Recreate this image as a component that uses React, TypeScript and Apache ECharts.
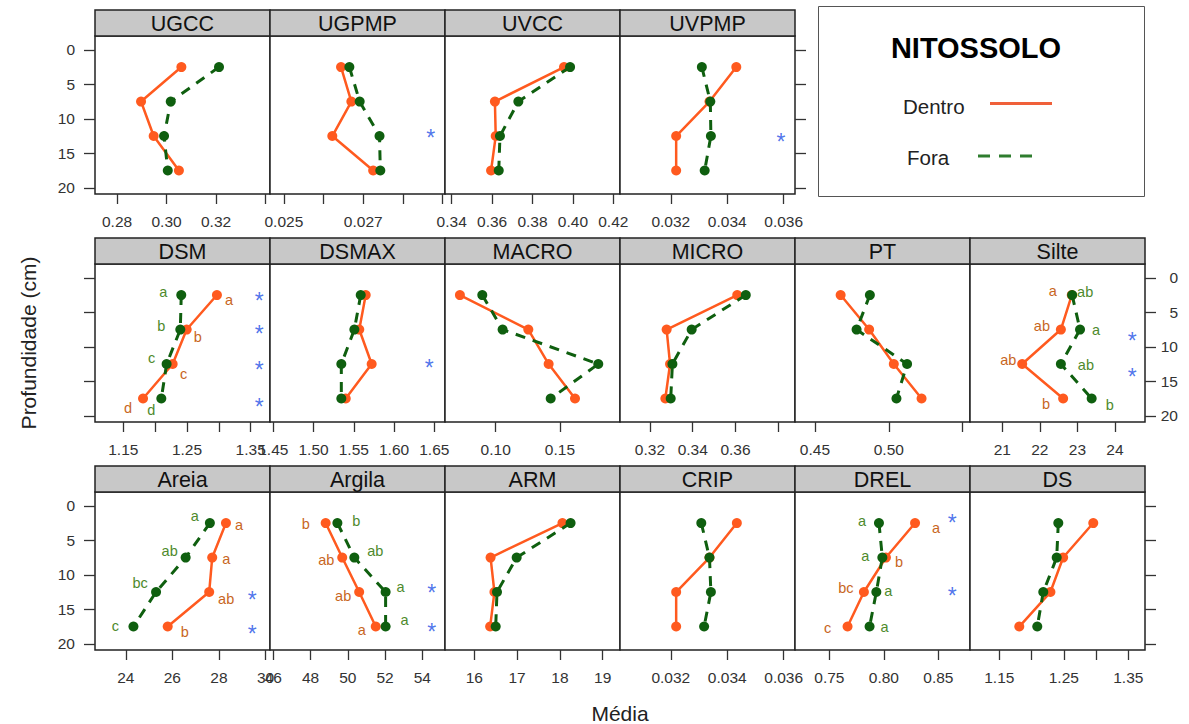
import React, { useEffect, useRef } from "react";
import * as echarts from "echarts";

// ---------------- DATA ----------------
const DEPTHS = [2.5, 7.5, 12.5, 17.5];
const DEPTH_TICKS = [0, 5, 10, 15, 20];

const UGCC_DENTRO = [0.306, 0.2897, 0.2948, 0.305];
const UGCC_FORA = [0.3212, 0.3017, 0.299, 0.3005];
const UGPMP_DENTRO = [0.02644, 0.0267, 0.02622, 0.02725];
const UGPMP_FORA = [0.02665, 0.02691, 0.02741, 0.02743];
const UVCC_DENTRO = [0.3956, 0.3614, 0.3618, 0.3595];
const UVCC_FORA = [0.3986, 0.373, 0.3639, 0.3633];
const UVPMP_DENTRO = [0.03432, 0.03337, 0.03219, 0.03219];
const UVPMP_FORA = [0.0331, 0.0334, 0.03342, 0.0332];
const DSM_DENTRO = [1.297, 1.2495, 1.2275, 1.181];
const DSM_FORA = [1.241, 1.2395, 1.218, 1.2097];
const DSMAX_DENTRO = [1.5648, 1.5568, 1.5722, 1.54];
const DSMAX_FORA = [1.5586, 1.5507, 1.5345, 1.5345];
const MACRO_DENTRO = [0.0722, 0.1254, 0.1412, 0.1617];
const MACRO_FORA = [0.0896, 0.1054, 0.1798, 0.1428];
const MICRO_DENTRO = [0.3608, 0.3278, 0.3294, 0.3272];
const MICRO_FORA = [0.3648, 0.3395, 0.3305, 0.3297];
const PT_DENTRO = [0.4674, 0.4867, 0.5034, 0.5222];
const PT_FORA = [0.4872, 0.4782, 0.5124, 0.5052];
const SILTE_DENTRO = [22.85, 22.56, 21.53, 22.62];
const SILTE_FORA = [22.86, 23.07, 22.56, 23.38];
const AREIA_DENTRO = [28.3, 27.71, 27.58, 25.8];
const AREIA_FORA = [27.61, 26.57, 25.3, 24.33];
const ARGILA_DENTRO = [48.81, 49.7, 50.61, 51.5];
const ARGILA_FORA = [49.44, 50.35, 52.03, 52.03];
const ARM_DENTRO = [18.06, 16.38, 16.47, 16.37];
const ARM_FORA = [18.25, 16.99, 16.53, 16.5];
const CRIP_DENTRO = [0.03434, 0.03337, 0.03219, 0.03219];
const CRIP_FORA = [0.03308, 0.03337, 0.03342, 0.03318];
const DREL_DENTRO = [0.8286, 0.8019, 0.7817, 0.7667];
const DREL_FORA = [0.7955, 0.7986, 0.7931, 0.7869];
const DS_DENTRO = [1.2957, 1.249, 1.2293, 1.181];
const DS_FORA = [1.2415, 1.239, 1.2182, 1.2089];

// significance letters
const DSM_DENTRO_LETTERS = ["a", "b", "c", "d"];
const DSM_FORA_LETTERS = ["a", "b", "c", "d"];
const SILTE_DENTRO_LETTERS = ["a", "ab", "ab", "b"];
const SILTE_FORA_LETTERS = ["ab", "a", "ab", "b"];
const AREIA_DENTRO_LETTERS = ["a", "a", "ab", "b"];
const AREIA_FORA_LETTERS = ["a", "ab", "bc", "c"];
const ARGILA_DENTRO_LETTERS = ["b", "ab", "ab", "a"];
const ARGILA_FORA_LETTERS = ["b", "ab", "a", "a"];
const DREL_DENTRO_LETTERS = ["a", "b", "bc", "c"];
const DREL_FORA_LETTERS = ["a", "a", "a", "a"];

// asterisks (depths)
const UGPMP_STARS = [12.1];
const UVPMP_STARS = [12.6];
const DSM_STARS = [2.64, 7.46, 12.6, 18.0];
const DSMAX_STARS = [12.4];
const SILTE_STARS = [8.43, 13.6];
const AREIA_STARS = [13.0, 17.9];
const ARGILA_STARS = [11.9, 17.5];
const DREL_STARS = [1.72, 12.4];

// tick values and tick labels
const UGCC_TICKS = [0.28, 0.3, 0.32, 0.34];
const UGCC_LABELS = [0.28, 0.3, 0.32];
const UGPMP_TICKS = [0.025, 0.026, 0.027, 0.028, 0.029];
const UGPMP_LABELS = [0.025, 0.027];
const UVCC_TICKS = [0.34, 0.36, 0.38, 0.4, 0.42];
const UVPMP_TICKS = [0.032, 0.034, 0.036];
const DSM_TICKS = [1.15, 1.2, 1.25, 1.3, 1.35];
const DSM_LABELS = [1.15, 1.25, 1.35];
const DSMAX_TICKS = [1.45, 1.5, 1.55, 1.6, 1.65];
const MACRO_TICKS = [0.1, 0.15];
const MICRO_TICKS = [0.32, 0.34, 0.36, 0.38];
const MICRO_LABELS = [0.32, 0.34, 0.36];
const PT_TICKS = [0.45, 0.5, 0.55];
const PT_LABELS = [0.45, 0.5];
const SILTE_TICKS = [21, 22, 23, 24];
const AREIA_TICKS = [24, 26, 28, 30];
const ARGILA_TICKS = [46, 48, 50, 52, 54];
const ARM_TICKS = [16, 17, 18, 19];
const CRIP_TICKS = [0.032, 0.034, 0.036];
const DREL_TICKS = [0.75, 0.8, 0.85];
const DS_TICKS = [1.15, 1.2, 1.25, 1.3, 1.35];
const DS_LABELS = [1.15, 1.25, 1.35];

// ---------------- LAYOUT / STYLE ----------------
const FONT = "'Liberation Sans', Arial, sans-serif";
const ORANGE = "#FF5A1F";
const GREEN = "#0F5F0F";
const ORANGE_TXT = "#C8661E";
const GREEN_TXT = "#4E8A2C";
const STAR_BLUE = "#2452E6";
const COL_X = [95, 270, 445, 620, 795, 970];
const ROW_TOP = [36, 264, 492];
const PW = 175;
const PH = 158;
const STRIP_H = 26;

const LETTER_OFFSETS: any = {
  DSM: { dentro: [[12, 5], [11, 7], [11, 10], [-15, 9]], fora: [[-18, -3], [-19, -4], [-15, -6], [-10, 11]] },
  Silte: { dentro: [[-19, -4], [-19, -4], [-14, -4], [-17, 5]], fora: [[13, -3], [16, 0], [25, 1], [18, 6]] },
  Areia: { dentro: [[13, 2], [14, 1], [17, 7], [17, 5]], fora: [[-15, -7], [-16, -7], [-16, -9], [-18, -1]] },
  Argila: { dentro: [[-20, 1], [-16, 2], [-16, 4], [-14, 3]], fora: [[19, -2], [21, -7], [15, -5], [19, -7]] },
  DREL: { dentro: [[21, 5], [13, 4], [-18, -4], [-20, 1]], fora: [[-17, -2], [-17, -2], [12, -1], [15, 0]] },
};

const PANELS: any[] = [
  { name: "UGCC", row: 0, col: 0, dentro: UGCC_DENTRO, fora: UGCC_FORA, min: 0.2711, max: 0.3418, ticks: UGCC_TICKS, labels: UGCC_LABELS, dec: 2, yAxis: "leftLabels" },
  { name: "UGPMP", row: 0, col: 1, dentro: UGPMP_DENTRO, fora: UGPMP_FORA, min: 0.02465, max: 0.02906, ticks: UGPMP_TICKS, labels: UGPMP_LABELS, dec: 3, stars: UGPMP_STARS, starX: 0.0287 },
  { name: "UVCC", row: 0, col: 2, dentro: UVCC_DENTRO, fora: UVCC_FORA, min: 0.3367, max: 0.4233, ticks: UVCC_TICKS, labels: UVCC_TICKS, dec: 2 },
  { name: "UVPMP", row: 0, col: 3, dentro: UVPMP_DENTRO, fora: UVPMP_FORA, min: 0.0302, max: 0.0364, ticks: UVPMP_TICKS, labels: UVPMP_TICKS, dec: 3, stars: UVPMP_STARS, starX: 0.0359, yAxis: "rightTicks" },
  { name: "DSM", row: 1, col: 0, dentro: DSM_DENTRO, fora: DSM_FORA, min: 1.1056, max: 1.3803, ticks: DSM_TICKS, labels: DSM_LABELS, dec: 2, stars: DSM_STARS, starX: 1.3635, dl: DSM_DENTRO_LETTERS, fl: DSM_FORA_LETTERS, yAxis: "leftTicks" },
  { name: "DSMAX", row: 1, col: 1, dentro: DSMAX_DENTRO, fora: DSMAX_FORA, min: 1.4459, max: 1.6633, ticks: DSMAX_TICKS, labels: DSMAX_TICKS, dec: 2, stars: DSMAX_STARS, starX: 1.6438 },
  { name: "MACRO", row: 1, col: 2, dentro: MACRO_DENTRO, fora: MACRO_FORA, min: 0.0606, max: 0.1967, ticks: MACRO_TICKS, labels: MACRO_TICKS, dec: 2 },
  { name: "MICRO", row: 1, col: 3, dentro: MICRO_DENTRO, fora: MICRO_FORA, min: 0.306, max: 0.3878, ticks: MICRO_TICKS, labels: MICRO_LABELS, dec: 2 },
  { name: "PT", row: 1, col: 4, dentro: PT_DENTRO, fora: PT_FORA, min: 0.4365, max: 0.555, ticks: PT_TICKS, labels: PT_LABELS, dec: 2 },
  { name: "Silte", row: 1, col: 5, dentro: SILTE_DENTRO, fora: SILTE_FORA, min: 20.14, max: 24.8, ticks: SILTE_TICKS, labels: SILTE_TICKS, dec: 0, stars: SILTE_STARS, starX: 24.46, dl: SILTE_DENTRO_LETTERS, fl: SILTE_FORA_LETTERS, yAxis: "rightLabels" },
  { name: "Areia", row: 2, col: 0, dentro: AREIA_DENTRO, fora: AREIA_FORA, min: 22.68, max: 30.19, ticks: AREIA_TICKS, labels: AREIA_TICKS, dec: 0, stars: AREIA_STARS, starX: 29.43, dl: AREIA_DENTRO_LETTERS, fl: AREIA_FORA_LETTERS, yAxis: "leftLabels" },
  { name: "Argila", row: 2, col: 1, dentro: ARGILA_DENTRO, fora: ARGILA_FORA, min: 45.82, max: 55.22, ticks: ARGILA_TICKS, labels: ARGILA_TICKS, dec: 0, stars: ARGILA_STARS, starX: 54.5, dl: ARGILA_DENTRO_LETTERS, fl: ARGILA_FORA_LETTERS },
  { name: "ARM", row: 2, col: 2, dentro: ARM_DENTRO, fora: ARM_FORA, min: 15.315, max: 19.405, ticks: ARM_TICKS, labels: ARM_TICKS, dec: 0 },
  { name: "CRIP", row: 2, col: 3, dentro: CRIP_DENTRO, fora: CRIP_FORA, min: 0.0302, max: 0.0364, ticks: CRIP_TICKS, labels: CRIP_TICKS, dec: 3 },
  { name: "DREL", row: 2, col: 4, dentro: DREL_DENTRO, fora: DREL_FORA, min: 0.7185, max: 0.879, ticks: DREL_TICKS, labels: DREL_TICKS, dec: 2, stars: DREL_STARS, starX: 0.8628, dl: DREL_DENTRO_LETTERS, fl: DREL_FORA_LETTERS },
  { name: "DS", row: 2, col: 5, dentro: DS_DENTRO, fora: DS_FORA, min: 1.1046, max: 1.3759, ticks: DS_TICKS, labels: DS_LABELS, dec: 2, yAxis: "rightTicks" },
];

function buildOption() {
  const tickLine = { color: "#333", width: 1.3 };
  const grid = PANELS.map((p) => ({
    left: COL_X[p.col],
    top: ROW_TOP[p.row],
    width: PW,
    height: PH,
    show: true,
    backgroundColor: "#fff",
    borderColor: "#222",
    borderWidth: 1.5,
  }));
  const xAxis = PANELS.map((p, i) => ({
    type: "value",
    gridIndex: i,
    min: p.min,
    max: p.max,
    position: "bottom",
    axisLine: { show: false, onZero: false },
    splitLine: { show: false },
    axisTick: { show: true, length: 10, lineStyle: tickLine, customValues: p.ticks },
    axisLabel: {
      show: true,
      customValues: p.labels,
      formatter: (v: number) => v.toFixed(p.dec),
      fontSize: 15.5,
      color: "#333",
      margin: 19,
      fontFamily: FONT,
    },
  }));
  const yAxis = PANELS.map((p, i) => {
    const mode = p.yAxis || "none";
    const right = mode === "rightTicks" || mode === "rightLabels";
    const ticks = mode !== "none";
    const labels = mode === "leftLabels" || mode === "rightLabels";
    return {
      type: "value",
      gridIndex: i,
      inverse: true,
      min: -2,
      max: 20.9,
      position: right ? "right" : "left",
      axisLine: { show: false, onZero: false },
      splitLine: { show: false },
      axisTick: { show: ticks, length: 11, lineStyle: tickLine, customValues: DEPTH_TICKS },
      axisLabel: {
        show: labels,
        customValues: DEPTH_TICKS,
        fontSize: 15.5,
        color: "#333",
        fontFamily: FONT,
        margin: right ? 33 : 20,
        align: "right",
      },
    };
  });

  const series: any[] = [];
  PANELS.forEach((p, i) => {
    const off = LETTER_OFFSETS[p.name];
    const mk = (vals: number[], letters: string[] | undefined, offs: number[][] | undefined, color: string) =>
      vals.map((v, k) => {
        const item: any = { value: [v, DEPTHS[k]] };
        if (letters && offs) {
          item.label = {
            show: true,
            formatter: letters[k],
            position: "inside",
            offset: offs[k],
            color,
            fontSize: 14.5,
            fontFamily: FONT,
          };
        }
        return item;
      });
    series.push({
      type: "line",
      name: "Dentro",
      xAxisIndex: i,
      yAxisIndex: i,
      data: mk(p.dentro, p.dl, off && off.dentro, ORANGE_TXT),
      symbol: "circle",
      symbolSize: 10,
      showAllSymbol: true,
      lineStyle: { color: ORANGE, width: 2.5 },
      itemStyle: { color: ORANGE },
      label: { show: false },
      emphasis: { disabled: true },
      z: 3,
    });
    series.push({
      type: "line",
      name: "Fora",
      xAxisIndex: i,
      yAxisIndex: i,
      data: mk(p.fora, p.fl, off && off.fora, GREEN_TXT),
      symbol: "circle",
      symbolSize: 10,
      showAllSymbol: true,
      lineStyle: { color: GREEN, width: 3, type: [10, 8] },
      itemStyle: { color: GREEN },
      label: { show: false },
      emphasis: { disabled: true },
      z: 4,
    });
    if (p.stars) {
      series.push({
        type: "scatter",
        xAxisIndex: i,
        yAxisIndex: i,
        data: p.stars.map((d: number) => [p.starX, d]),
        symbol: "circle",
        symbolSize: 1,
        itemStyle: { color: "rgba(0,0,0,0)" },
        label: {
          show: true,
          formatter: "*",
          position: "inside",
          offset: [0, 5],
          color: STAR_BLUE,
          fontSize: 23,
          fontFamily: FONT,
        },
        silent: true,
        z: 5,
      });
    }
  });

  const graphic: any[] = [];
  PANELS.forEach((p) => {
    const x = COL_X[p.col];
    const y = ROW_TOP[p.row] - STRIP_H;
    graphic.push({
      type: "rect",
      shape: { x, y, width: PW, height: STRIP_H },
      style: { fill: "#c8c8c8", stroke: "#222", lineWidth: 1.5 },
      silent: true,
    });
    graphic.push({
      type: "text",
      x: x + PW / 2,
      y: y + STRIP_H / 2 + 1,
      style: { text: p.name, fontSize: 21.5, fontFamily: FONT, fill: "#111", align: "center", verticalAlign: "middle" },
      silent: true,
    });
  });
  // axis titles
  graphic.push({
    type: "text",
    x: 28,
    y: 343,
    rotation: Math.PI / 2,
    style: { text: "Profundidade (cm)", fontSize: 21, fontFamily: FONT, fill: "#222", align: "center", verticalAlign: "middle" },
  });
  graphic.push({
    type: "text",
    x: 620,
    y: 713,
    style: { text: "Média", fontSize: 21, fontFamily: FONT, fill: "#222", align: "center", verticalAlign: "middle" },
  });
  // legend box
  graphic.push({
    type: "rect",
    shape: { x: 818.5, y: 6.5, width: 326, height: 190 },
    style: { fill: "#fff", stroke: "#555", lineWidth: 1 },
  });
  graphic.push({
    type: "text",
    x: 976,
    y: 48,
    style: { text: "NITOSSOLO", fontSize: 29, fontWeight: "bold", fontFamily: FONT, fill: "#000", align: "center", verticalAlign: "middle" },
  });
  graphic.push({
    type: "text",
    x: 903,
    y: 106,
    style: { text: "Dentro", fontSize: 20.5, fontFamily: FONT, fill: "#222", align: "left", verticalAlign: "middle" },
  });
  graphic.push({
    type: "line",
    shape: { x1: 990, y1: 103.5, x2: 1052, y2: 103.5 },
    style: { stroke: "#F0603A", lineWidth: 3 },
  });
  graphic.push({
    type: "text",
    x: 907,
    y: 157,
    style: { text: "Fora", fontSize: 20.5, fontFamily: FONT, fill: "#222", align: "left", verticalAlign: "middle" },
  });
  graphic.push({
    type: "line",
    shape: { x1: 978, y1: 156, x2: 1040, y2: 156 },
    style: { stroke: "#2E7D2E", lineWidth: 3, lineDash: [12, 9] },
  });

  return {
    animation: false,
    backgroundColor: "#fff",
    textStyle: { fontFamily: FONT },
    grid,
    xAxis,
    yAxis,
    series,
    graphic,
  };
}

export default function App() {
  const ref = useRef<HTMLDivElement>(null);
  useEffect(() => {
    if (!ref.current) return;
    const chart = echarts.init(ref.current, undefined, { renderer: "svg" });
    chart.setOption(buildOption() as any);
    return () => chart.dispose();
  }, []);
  return (
    <div
      ref={ref}
      style={{ position: "absolute", left: 0, top: 0, width: 1189, height: 724, background: "#fff" }}
    />
  );
}
